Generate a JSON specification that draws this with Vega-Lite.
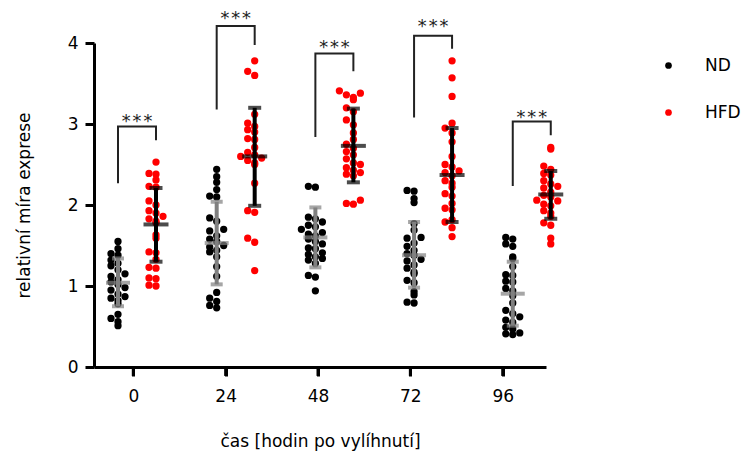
{
"$schema": "https://vega.github.io/schema/vega-lite/v6.json",
"width": 452, "height": 324,
"autosize": "none",
"padding": {"left": 94, "top": 43, "right": 209, "bottom": 87},
"datasets": {
"pts": [
{"t":0,"g":"ND","v":1.55},{"t":0,"g":"ND","v":1.46},{"t":0,"g":"ND","v":1.40},{"t":0,"g":"ND","v":1.38},{"t":0,"g":"ND","v":1.32},{"t":0,"g":"ND","v":1.28},{"t":0,"g":"ND","v":1.25},{"t":0,"g":"ND","v":1.20},{"t":0,"g":"ND","v":1.15},{"t":0,"g":"ND","v":1.12},{"t":0,"g":"ND","v":1.08},{"t":0,"g":"ND","v":1.05},{"t":0,"g":"ND","v":1.02},{"t":0,"g":"ND","v":0.98},{"t":0,"g":"ND","v":0.95},{"t":0,"g":"ND","v":0.90},{"t":0,"g":"ND","v":0.87},{"t":0,"g":"ND","v":0.85},{"t":0,"g":"ND","v":0.82},{"t":0,"g":"ND","v":0.78},{"t":0,"g":"ND","v":0.65},{"t":0,"g":"ND","v":0.60},{"t":0,"g":"ND","v":0.56},{"t":0,"g":"ND","v":0.51},
{"t":0,"g":"HFD","v":2.53},{"t":0,"g":"HFD","v":2.39},{"t":0,"g":"HFD","v":2.38},{"t":0,"g":"HFD","v":2.31},{"t":0,"g":"HFD","v":2.23},{"t":0,"g":"HFD","v":2.22},{"t":0,"g":"HFD","v":2.05},{"t":0,"g":"HFD","v":2.00},{"t":0,"g":"HFD","v":1.93},{"t":0,"g":"HFD","v":1.90},{"t":0,"g":"HFD","v":1.86},{"t":0,"g":"HFD","v":1.83},{"t":0,"g":"HFD","v":1.80},{"t":0,"g":"HFD","v":1.78},{"t":0,"g":"HFD","v":1.63},{"t":0,"g":"HFD","v":1.59},{"t":0,"g":"HFD","v":1.42},{"t":0,"g":"HFD","v":1.41},{"t":0,"g":"HFD","v":1.33},{"t":0,"g":"HFD","v":1.23},{"t":0,"g":"HFD","v":1.22},{"t":0,"g":"HFD","v":1.10},{"t":0,"g":"HFD","v":1.09},{"t":0,"g":"HFD","v":1.01},{"t":0,"g":"HFD","v":1.00},
{"t":24,"g":"ND","v":2.44},{"t":24,"g":"ND","v":2.35},{"t":24,"g":"ND","v":2.28},{"t":24,"g":"ND","v":2.19},{"t":24,"g":"ND","v":2.11},{"t":24,"g":"ND","v":2.10},{"t":24,"g":"ND","v":1.84},{"t":24,"g":"ND","v":1.80},{"t":24,"g":"ND","v":1.70},{"t":24,"g":"ND","v":1.68},{"t":24,"g":"ND","v":1.62},{"t":24,"g":"ND","v":1.58},{"t":24,"g":"ND","v":1.55},{"t":24,"g":"ND","v":1.50},{"t":24,"g":"ND","v":1.48},{"t":24,"g":"ND","v":1.44},{"t":24,"g":"ND","v":1.42},{"t":24,"g":"ND","v":1.36},{"t":24,"g":"ND","v":1.24},{"t":24,"g":"ND","v":1.12},{"t":24,"g":"ND","v":0.92},{"t":24,"g":"ND","v":0.85},{"t":24,"g":"ND","v":0.81},{"t":24,"g":"ND","v":0.76},{"t":24,"g":"ND","v":0.73},
{"t":24,"g":"HFD","v":3.78},{"t":24,"g":"HFD","v":3.65},{"t":24,"g":"HFD","v":3.60},{"t":24,"g":"HFD","v":3.12},{"t":24,"g":"HFD","v":3.01},{"t":24,"g":"HFD","v":2.97},{"t":24,"g":"HFD","v":2.93},{"t":24,"g":"HFD","v":2.90},{"t":24,"g":"HFD","v":2.82},{"t":24,"g":"HFD","v":2.81},{"t":24,"g":"HFD","v":2.71},{"t":24,"g":"HFD","v":2.65},{"t":24,"g":"HFD","v":2.62},{"t":24,"g":"HFD","v":2.60},{"t":24,"g":"HFD","v":2.58},{"t":24,"g":"HFD","v":2.55},{"t":24,"g":"HFD","v":2.52},{"t":24,"g":"HFD","v":2.50},{"t":24,"g":"HFD","v":2.27},{"t":24,"g":"HFD","v":1.93},{"t":24,"g":"HFD","v":1.91},{"t":24,"g":"HFD","v":1.59},{"t":24,"g":"HFD","v":1.54},{"t":24,"g":"HFD","v":1.19},
{"t":48,"g":"ND","v":2.23},{"t":48,"g":"ND","v":2.22},{"t":48,"g":"ND","v":1.85},{"t":48,"g":"ND","v":1.83},{"t":48,"g":"ND","v":1.79},{"t":48,"g":"ND","v":1.75},{"t":48,"g":"ND","v":1.73},{"t":48,"g":"ND","v":1.70},{"t":48,"g":"ND","v":1.66},{"t":48,"g":"ND","v":1.64},{"t":48,"g":"ND","v":1.62},{"t":48,"g":"ND","v":1.58},{"t":48,"g":"ND","v":1.55},{"t":48,"g":"ND","v":1.52},{"t":48,"g":"ND","v":1.47},{"t":48,"g":"ND","v":1.46},{"t":48,"g":"ND","v":1.41},{"t":48,"g":"ND","v":1.39},{"t":48,"g":"ND","v":1.36},{"t":48,"g":"ND","v":1.34},{"t":48,"g":"ND","v":1.32},{"t":48,"g":"ND","v":1.28},{"t":48,"g":"ND","v":1.13},{"t":48,"g":"ND","v":1.11},{"t":48,"g":"ND","v":0.94},
{"t":48,"g":"HFD","v":3.41},{"t":48,"g":"HFD","v":3.38},{"t":48,"g":"HFD","v":3.36},{"t":48,"g":"HFD","v":3.33},{"t":48,"g":"HFD","v":3.30},{"t":48,"g":"HFD","v":3.20},{"t":48,"g":"HFD","v":3.15},{"t":48,"g":"HFD","v":3.05},{"t":48,"g":"HFD","v":2.99},{"t":48,"g":"HFD","v":2.89},{"t":48,"g":"HFD","v":2.81},{"t":48,"g":"HFD","v":2.75},{"t":48,"g":"HFD","v":2.70},{"t":48,"g":"HFD","v":2.66},{"t":48,"g":"HFD","v":2.62},{"t":48,"g":"HFD","v":2.57},{"t":48,"g":"HFD","v":2.52},{"t":48,"g":"HFD","v":2.50},{"t":48,"g":"HFD","v":2.46},{"t":48,"g":"HFD","v":2.43},{"t":48,"g":"HFD","v":2.40},{"t":48,"g":"HFD","v":2.38},{"t":48,"g":"HFD","v":2.36},{"t":48,"g":"HFD","v":2.06},{"t":48,"g":"HFD","v":2.02},{"t":48,"g":"HFD","v":2.01},
{"t":72,"g":"ND","v":2.18},{"t":72,"g":"ND","v":2.17},{"t":72,"g":"ND","v":2.08},{"t":72,"g":"ND","v":2.03},{"t":72,"g":"ND","v":1.77},{"t":72,"g":"ND","v":1.69},{"t":72,"g":"ND","v":1.60},{"t":72,"g":"ND","v":1.59},{"t":72,"g":"ND","v":1.53},{"t":72,"g":"ND","v":1.49},{"t":72,"g":"ND","v":1.44},{"t":72,"g":"ND","v":1.40},{"t":72,"g":"ND","v":1.38},{"t":72,"g":"ND","v":1.33},{"t":72,"g":"ND","v":1.31},{"t":72,"g":"ND","v":1.26},{"t":72,"g":"ND","v":1.22},{"t":72,"g":"ND","v":1.17},{"t":72,"g":"ND","v":1.15},{"t":72,"g":"ND","v":1.07},{"t":72,"g":"ND","v":1.04},{"t":72,"g":"ND","v":0.93},{"t":72,"g":"ND","v":0.89},{"t":72,"g":"ND","v":0.80},{"t":72,"g":"ND","v":0.79},
{"t":72,"g":"HFD","v":3.78},{"t":72,"g":"HFD","v":3.57},{"t":72,"g":"HFD","v":3.34},{"t":72,"g":"HFD","v":3.01},{"t":72,"g":"HFD","v":2.95},{"t":72,"g":"HFD","v":2.89},{"t":72,"g":"HFD","v":2.78},{"t":72,"g":"HFD","v":2.60},{"t":72,"g":"HFD","v":2.50},{"t":72,"g":"HFD","v":2.47},{"t":72,"g":"HFD","v":2.42},{"t":72,"g":"HFD","v":2.40},{"t":72,"g":"HFD","v":2.36},{"t":72,"g":"HFD","v":2.30},{"t":72,"g":"HFD","v":2.27},{"t":72,"g":"HFD","v":2.22},{"t":72,"g":"HFD","v":2.14},{"t":72,"g":"HFD","v":2.11},{"t":72,"g":"HFD","v":2.02},{"t":72,"g":"HFD","v":1.96},{"t":72,"g":"HFD","v":1.94},{"t":72,"g":"HFD","v":1.82},{"t":72,"g":"HFD","v":1.79},{"t":72,"g":"HFD","v":1.72},{"t":72,"g":"HFD","v":1.61},
{"t":96,"g":"ND","v":1.60},{"t":96,"g":"ND","v":1.58},{"t":96,"g":"ND","v":1.52},{"t":96,"g":"ND","v":1.49},{"t":96,"g":"ND","v":1.36},{"t":96,"g":"ND","v":1.34},{"t":96,"g":"ND","v":1.24},{"t":96,"g":"ND","v":1.14},{"t":96,"g":"ND","v":1.13},{"t":96,"g":"ND","v":1.06},{"t":96,"g":"ND","v":1.05},{"t":96,"g":"ND","v":0.97},{"t":96,"g":"ND","v":0.94},{"t":96,"g":"ND","v":0.88},{"t":96,"g":"ND","v":0.79},{"t":96,"g":"ND","v":0.70},{"t":96,"g":"ND","v":0.66},{"t":96,"g":"ND","v":0.62},{"t":96,"g":"ND","v":0.58},{"t":96,"g":"ND","v":0.55},{"t":96,"g":"ND","v":0.49},{"t":96,"g":"ND","v":0.47},{"t":96,"g":"ND","v":0.42},{"t":96,"g":"ND","v":0.41},{"t":96,"g":"ND","v":0.40},
{"t":96,"g":"HFD","v":2.71},{"t":96,"g":"HFD","v":2.69},{"t":96,"g":"HFD","v":2.48},{"t":96,"g":"HFD","v":2.44},{"t":96,"g":"HFD","v":2.39},{"t":96,"g":"HFD","v":2.37},{"t":96,"g":"HFD","v":2.30},{"t":96,"g":"HFD","v":2.26},{"t":96,"g":"HFD","v":2.23},{"t":96,"g":"HFD","v":2.21},{"t":96,"g":"HFD","v":2.16},{"t":96,"g":"HFD","v":2.12},{"t":96,"g":"HFD","v":2.10},{"t":96,"g":"HFD","v":2.06},{"t":96,"g":"HFD","v":2.05},{"t":96,"g":"HFD","v":2.01},{"t":96,"g":"HFD","v":1.99},{"t":96,"g":"HFD","v":1.93},{"t":96,"g":"HFD","v":1.90},{"t":96,"g":"HFD","v":1.86},{"t":96,"g":"HFD","v":1.78},{"t":96,"g":"HFD","v":1.75},{"t":96,"g":"HFD","v":1.59},{"t":96,"g":"HFD","v":1.52}
],
"sum": [
{"t":0,"g":"ND","mean":1.04,"lo":0.75,"hi":1.34},{"t":0,"g":"HFD","mean":1.76,"lo":1.30,"hi":2.21},
{"t":24,"g":"ND","mean":1.53,"lo":1.02,"hi":2.04},{"t":24,"g":"HFD","mean":2.60,"lo":1.99,"hi":3.20},
{"t":48,"g":"ND","mean":1.60,"lo":1.23,"hi":1.97},{"t":48,"g":"HFD","mean":2.73,"lo":2.28,"hi":3.19},
{"t":72,"g":"ND","mean":1.38,"lo":0.98,"hi":1.79},{"t":72,"g":"HFD","mean":2.37,"lo":1.79,"hi":2.95},
{"t":96,"g":"ND","mean":0.905,"lo":0.51,"hi":1.30},{"t":96,"g":"HFD","mean":2.13,"lo":1.83,"hi":2.42}
],
"br": [
{"t":0,"g":"ND","y":2.27,"o":1},{"t":0,"g":"ND","y":2.97,"o":2},{"t":0,"g":"HFD","y":2.97,"o":3},{"t":0,"g":"HFD","y":2.80,"o":4},
{"t":24,"g":"ND","y":3.18,"o":1},{"t":24,"g":"ND","y":4.21,"o":2},{"t":24,"g":"HFD","y":4.21,"o":3},{"t":24,"g":"HFD","y":3.975,"o":4},
{"t":48,"g":"ND","y":2.84,"o":1},{"t":48,"g":"ND","y":3.87,"o":2},{"t":48,"g":"HFD","y":3.87,"o":3},{"t":48,"g":"HFD","y":3.65,"o":4},
{"t":72,"g":"ND","y":3.08,"o":1},{"t":72,"g":"ND","y":4.09,"o":2},{"t":72,"g":"HFD","y":4.09,"o":3},{"t":72,"g":"HFD","y":3.93,"o":4},
{"t":96,"g":"ND","y":2.235,"o":1},{"t":96,"g":"ND","y":3.03,"o":2},{"t":96,"g":"HFD","y":3.03,"o":3},{"t":96,"g":"HFD","y":2.86,"o":4}
],
"st": [
{"t":0,"y":3.09,"label":"***"},{"t":24,"y":4.354,"label":"***"},{"t":48,"y":3.996,"label":"***"},{"t":72,"y":4.263,"label":"***"},{"t":96,"y":3.132,"label":"***"}
],
"ax": [{"h":0},{"h":24},{"h":48},{"h":72},{"h":96}]
},
"layer": [
{
"data": {"name": "ax"},
"layer": [
{
"mark": {"type": "point", "opacity": 0},
"encoding": {
"x": {"field": "h", "type": "quantitative", "scale": {"domain": [-10.21, 107.25], "nice": false, "zero": false},
"axis": {"title": "čas [hodin po vylíhnutí]", "values": [0,24,48,72,96], "format": "d", "labelAngle": 0, "ticks": true, "tickSize": 9, "tickWidth": 3, "tickColor": "#000000", "tickOpacity": 1, "labelPadding": 12, "labelFlush": false, "titleY": 79, "titleBaseline": "alphabetic"}},
"y": {"datum": 0, "type": "quantitative"}
}
},
{
"mark": {"type": "rule", "color": "#000000", "strokeWidth": 3},
"encoding": {
"x": {"field": "h", "type": "quantitative"},
"y": {"datum": 0, "type": "quantitative"},
"y2": {"datum": -0.11}
}
}
]
},
{
"layer": [
{
"data": {"name": "pts"},
"transform": [
{"filter": "datum.g === 'ND'"},
{"bin": {"step": 0.09}, "field": "v", "as": "vb"},
{"window": [{"op": "row_number", "as": "rn"}], "groupby": ["t", "vb"], "sort": [{"field": "v"}]}
],
"mark": {"type": "circle", "size": 53, "opacity": 1},
"encoding": {
"x": {"field": "t", "type": "ordinal", "scale": {"type": "band", "domain": [0,24,48,72,96], "paddingInner": 0.42, "paddingOuter": 0}, "axis": null},
"xOffset": {"field": "rn", "type": "ordinal", "scale": {"domain": [10,8,6,4,2,1,3,5,7,9,11], "range": [-14.5, 62.5]}},
"y": {"field": "v", "type": "quantitative", "scale": {"domain": [0, 4], "nice": false}, "title": "relativní míra exprese",
"axis": {"values": [0,1,2,3,4], "format": "d", "ticks": true, "labelPadding": 7, "titleX": -65, "titleY": 162, "titleBaseline": "alphabetic", "titleAlign": "center", "titleAngle": -90}},
"color": {"field": "g", "type": "nominal", "scale": {"domain": ["ND","HFD"], "range": ["#000000","#ff0000"]},
"legend": {"orient": "none", "legendX": 566, "legendY": 14, "title": null, "symbolType": "circle", "symbolSize": 45, "labelFontSize": 17, "labelOffset": 28, "rowPadding": 29, "padding": 0, "symbolStrokeWidth": 0, "labelColor": "#000000"}}
}
},
{
"data": {"name": "sum"},
"transform": [{"filter": "datum.g === 'ND'"}],
"mark": {"type": "rule", "color": "#808080", "strokeWidth": 4},
"encoding": {
"x": {"field": "t", "type": "ordinal", "scale": {"type": "band", "domain": [0,24,48,72,96], "paddingInner": 0.42, "paddingOuter": 0}, "axis": null},
"xOffset": {"datum": 1, "type": "ordinal", "scale": {"domain": [10,8,6,4,2,1,3,5,7,9,11], "range": [-14.5, 62.5]}},
"y": {"field": "lo", "type": "quantitative"},
"y2": {"field": "hi"}
}
},
{
"data": {"name": "sum"},
"transform": [{"filter": "datum.g === 'ND'"}, {"fold": ["lo", "hi"], "as": ["k", "cv"]}],
"mark": {"type": "tick", "color": "#808080", "orient": "horizontal", "size": 12, "thickness": 4},
"encoding": {
"x": {"field": "t", "type": "ordinal", "scale": {"type": "band", "domain": [0,24,48,72,96], "paddingInner": 0.42, "paddingOuter": 0}, "axis": null},
"xOffset": {"datum": 1, "type": "ordinal", "scale": {"domain": [10,8,6,4,2,1,3,5,7,9,11], "range": [-14.5, 62.5]}},
"y": {"field": "cv", "type": "quantitative"}
}
},
{
"data": {"name": "sum"},
"transform": [{"filter": "datum.g === 'ND'"}],
"mark": {"type": "tick", "color": "#808080", "orient": "horizontal", "size": 24, "thickness": 4},
"encoding": {
"x": {"field": "t", "type": "ordinal", "scale": {"type": "band", "domain": [0,24,48,72,96], "paddingInner": 0.42, "paddingOuter": 0}, "axis": null},
"xOffset": {"datum": 1, "type": "ordinal", "scale": {"domain": [10,8,6,4,2,1,3,5,7,9,11], "range": [-14.5, 62.5]}},
"y": {"field": "mean", "type": "quantitative"}
}
}
]
},
{
"layer": [
{
"data": {"name": "pts"},
"transform": [
{"filter": "datum.g === 'HFD'"},
{"bin": {"step": 0.09}, "field": "v", "as": "vb"},
{"window": [{"op": "row_number", "as": "rn"}], "groupby": ["t", "vb"], "sort": [{"field": "v"}]}
],
"mark": {"type": "circle", "size": 53, "opacity": 1},
"encoding": {
"x": {"field": "t", "type": "ordinal", "scale": {"type": "band", "domain": [0,24,48,72,96], "paddingInner": 0.42, "paddingOuter": 0}, "axis": null},
"xOffset": {"field": "rn", "type": "ordinal", "scale": {"domain": [10,8,6,4,2,1,3,5,7,9,11], "range": [23.5, 100.5]}},
"y": {"field": "v", "type": "quantitative"},
"color": {"field": "g", "type": "nominal", "scale": {"domain": ["ND","HFD"], "range": ["#000000","#ff0000"]}, "legend": null}
}
},
{
"data": {"name": "sum"},
"transform": [{"filter": "datum.g === 'HFD'"}],
"mark": {"type": "rule", "color": "#000000", "strokeWidth": 4},
"encoding": {
"x": {"field": "t", "type": "ordinal", "scale": {"type": "band", "domain": [0,24,48,72,96], "paddingInner": 0.42, "paddingOuter": 0}, "axis": null},
"xOffset": {"datum": 1, "type": "ordinal", "scale": {"domain": [10,8,6,4,2,1,3,5,7,9,11], "range": [23.5, 100.5]}},
"y": {"field": "lo", "type": "quantitative"},
"y2": {"field": "hi"}
}
},
{
"data": {"name": "sum"},
"transform": [{"filter": "datum.g === 'HFD'"}, {"fold": ["lo", "hi"], "as": ["k", "cv"]}],
"mark": {"type": "tick", "color": "#000000", "orient": "horizontal", "size": 13, "thickness": 4},
"encoding": {
"x": {"field": "t", "type": "ordinal", "scale": {"type": "band", "domain": [0,24,48,72,96], "paddingInner": 0.42, "paddingOuter": 0}, "axis": null},
"xOffset": {"datum": 1, "type": "ordinal", "scale": {"domain": [10,8,6,4,2,1,3,5,7,9,11], "range": [23.5, 100.5]}},
"y": {"field": "cv", "type": "quantitative"}
}
},
{
"data": {"name": "sum"},
"transform": [{"filter": "datum.g === 'HFD'"}],
"mark": {"type": "tick", "color": "#000000", "orient": "horizontal", "size": 25, "thickness": 4},
"encoding": {
"x": {"field": "t", "type": "ordinal", "scale": {"type": "band", "domain": [0,24,48,72,96], "paddingInner": 0.42, "paddingOuter": 0}, "axis": null},
"xOffset": {"datum": 1, "type": "ordinal", "scale": {"domain": [10,8,6,4,2,1,3,5,7,9,11], "range": [23.5, 100.5]}},
"y": {"field": "mean", "type": "quantitative"}
}
}
]
},
{
"data": {"name": "br"},
"mark": {"type": "line", "color": "#222222", "strokeWidth": 2, "strokeCap": "butt", "strokeJoin": "miter"},
"encoding": {
"x": {"field": "t", "type": "ordinal", "scale": {"type": "band", "domain": [0,24,48,72,96], "paddingInner": 0.42, "paddingOuter": 0}, "axis": null},
"xOffset": {"field": "g", "type": "nominal", "scale": {"domain": ["ND","HFD"], "range": [5, 81]}},
"y": {"field": "y", "type": "quantitative"},
"detail": {"field": "t"},
"order": {"field": "o"}
}
},
{
"data": {"name": "st"},
"mark": {"type": "text", "font": "DejaVu Sans Mono", "fontSize": 18, "color": "#222222", "baseline": "alphabetic", "dy": 10},
"encoding": {
"x": {"field": "t", "type": "ordinal", "scale": {"type": "band", "domain": [0,24,48,72,96], "paddingInner": 0.42, "paddingOuter": 0}, "axis": null},
"xOffset": {"datum": "c", "type": "nominal", "scale": {"domain": ["c"], "range": [24, 62]}},
"y": {"field": "y", "type": "quantitative"},
"text": {"field": "label"}
}
}
],
"resolve": {"scale": {"x": "independent", "xOffset": "independent"}},
"config": {
"view": {"stroke": null},
"font": "DejaVu Sans",
"axis": {"domainColor": "#000000", "domainWidth": 3, "ticks": true, "tickColor": "#000000", "tickWidth": 3, "tickSize": 9, "labelFont": "DejaVu Sans", "labelFontSize": 17, "labelColor": "#000000", "titleFont": "DejaVu Sans", "titleFontSize": 17, "titleFontWeight": "normal", "titleColor": "#000000", "grid": false},
"legend": {"labelFont": "DejaVu Sans"}
}
}
